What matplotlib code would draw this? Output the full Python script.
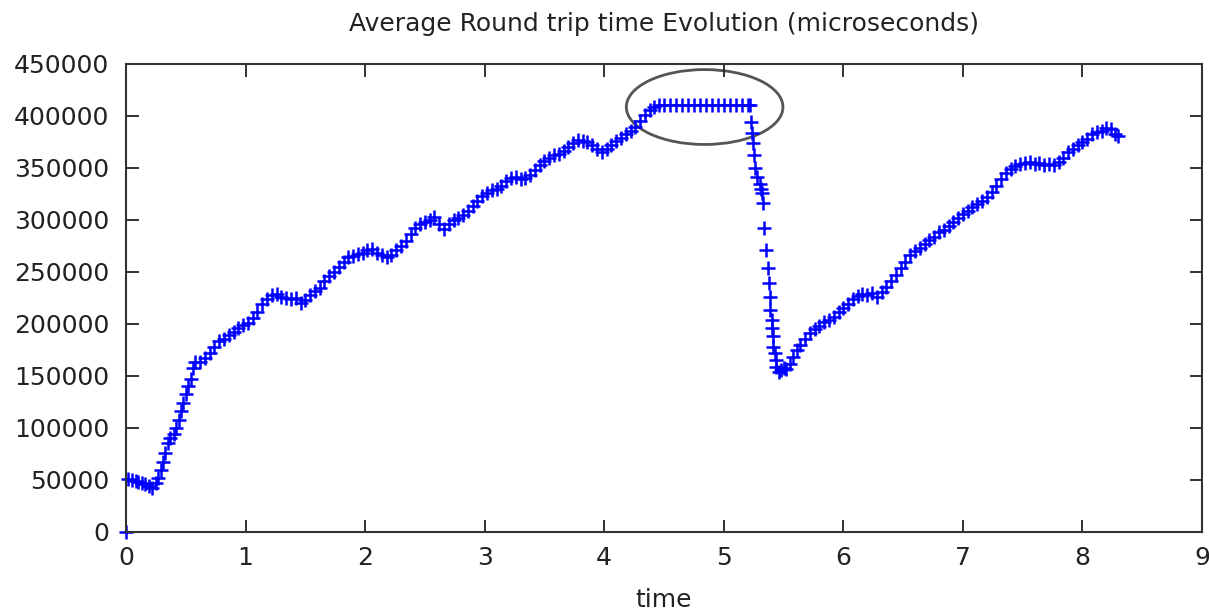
import matplotlib
matplotlib.use("Agg")
import matplotlib.pyplot as plt
from matplotlib.patches import Ellipse

# readings of the plotted series (time, average round trip time in microseconds)
times = [
    0.00, 0.02, 0.05, 0.08, 0.10, 0.13, 0.16, 0.19, 0.22, 0.25, 0.27, 0.29, 0.31, 0.33, 0.35, 0.37,
    0.40, 0.42, 0.44, 0.46, 0.48, 0.50, 0.52, 0.54, 0.56, 0.58, 0.62, 0.66, 0.70, 0.74, 0.78, 0.82,
    0.86, 0.90, 0.94, 0.98, 1.02, 1.06, 1.10, 1.14, 1.18, 1.22, 1.26, 1.30, 1.34, 1.38, 1.42, 1.46,
    1.50, 1.54, 1.58, 1.62, 1.66, 1.70, 1.74, 1.78, 1.82, 1.86, 1.90, 1.94, 1.98, 2.02, 2.06, 2.10,
    2.14, 2.18, 2.22, 2.26, 2.30, 2.34, 2.38, 2.42, 2.46, 2.50, 2.54, 2.58, 2.62, 2.66, 2.70, 2.74,
    2.78, 2.82, 2.86, 2.90, 2.94, 2.98, 3.02, 3.06, 3.10, 3.14, 3.18, 3.22, 3.26, 3.30, 3.34, 3.38,
    3.42, 3.46, 3.50, 3.54, 3.58, 3.62, 3.66, 3.70, 3.74, 3.78, 3.82, 3.86, 3.90, 3.94, 3.98, 4.02,
    4.06, 4.10, 4.14, 4.18, 4.22, 4.26, 4.30, 4.34, 4.38, 4.42, 4.46, 4.50, 4.55, 4.60, 4.65, 4.70,
    4.75, 4.80, 4.85, 4.90, 4.95, 5.00, 5.05, 5.10, 5.15, 5.20, 5.22,
    5.23, 5.24, 5.245, 5.25, 5.26, 5.28, 5.30, 5.31, 5.32, 5.33, 5.34, 5.35, 5.37, 5.38, 5.385,
    5.39, 5.40, 5.405, 5.41, 5.415, 5.43, 5.435, 5.44, 5.46, 5.48, 5.50, 5.52, 5.55, 5.58, 5.61,
    5.64, 5.68, 5.72, 5.76, 5.80, 5.84, 5.88, 5.92, 5.96, 6.00, 6.04, 6.08, 6.12, 6.16, 6.20, 6.24,
    6.28, 6.32, 6.36, 6.40, 6.44, 6.48, 6.52, 6.56, 6.60, 6.64, 6.68, 6.72, 6.76, 6.80, 6.84, 6.88,
    6.92, 6.96, 7.00, 7.04, 7.08, 7.12, 7.16, 7.20, 7.24, 7.28, 7.32, 7.36, 7.40, 7.44, 7.48, 7.52,
    7.56, 7.60, 7.64, 7.68, 7.72, 7.76, 7.80, 7.84, 7.88, 7.92, 7.96, 8.00, 8.04, 8.08, 8.12, 8.16,
    8.20, 8.24, 8.27, 8.30,
]
rtt = [
    0, 51000, 50000, 49000, 48000, 47000, 46000, 44000, 42000, 47000, 52000, 60000, 67000, 76000, 86000, 90000,
    94000, 100000, 108000, 116000, 124000, 133000, 140000, 147000, 158000, 163000, 163000, 167000, 172000, 178000, 184000, 186000,
    189000, 192000, 196000, 199000, 201000, 206000, 212000, 219000, 224000, 228000, 229000, 226000, 225000, 224000, 225000, 220000,
    223000, 228000, 232000, 235000, 241000, 246000, 250000, 255000, 260000, 264000, 265000, 267000, 268000, 271000, 272000, 268000,
    266000, 264000, 266000, 271000, 275000, 280000, 287000, 292000, 296000, 298000, 300000, 303000, 296000, 291000, 296000, 300000,
    302000, 305000, 309000, 313000, 318000, 323000, 326000, 329000, 330000, 333000, 337000, 340000, 341000, 339000, 340000, 343000,
    348000, 353000, 357000, 360000, 362000, 363000, 366000, 370000, 374000, 377000, 376000, 375000, 372000, 368000, 365000, 368000,
    372000, 376000, 379000, 383000, 386000, 389000, 395000, 401000, 406000, 409000, 411000, 411000, 411000, 411000, 411000, 411000,
    411000, 411000, 411000, 411000, 411000, 411000, 411000, 411000, 411000, 411000, 411000,
    394000, 384000, 374000, 362000, 350000, 341000, 335000, 330000, 326000, 316000, 292000, 271000, 254000, 239000, 226000,
    213000, 204000, 196000, 188000, 178000, 172000, 165000, 159000, 154000, 156000, 158000, 157000, 162000, 168000, 175000,
    180000, 186000, 191000, 195000, 198000, 202000, 204000, 207000, 212000, 215000, 219000, 224000, 227000, 229000, 228000, 230000,
    226000, 231000, 236000, 241000, 247000, 254000, 260000, 266000, 270000, 273000, 277000, 281000, 284000, 288000, 290000, 294000,
    298000, 302000, 306000, 309000, 312000, 315000, 318000, 322000, 327000, 333000, 339000, 345000, 349000, 352000, 354000, 355000,
    356000, 354000, 355000, 353000, 354000, 353000, 356000, 360000, 365000, 368000, 372000, 375000, 378000, 383000, 385000, 386000,
    388000, 387000, 383000, 381000,
]

x_ticks = [0, 1, 2, 3, 4, 5, 6, 7, 8, 9]
y_ticks = [0, 50000, 100000, 150000, 200000, 250000, 300000, 350000, 400000, 450000]

fig = plt.figure(figsize=(12.09, 6.11), dpi=100)
ax = fig.add_axes([0.1042, 0.1293, 0.8900, 0.7660])

ax.plot(times, rtt, linestyle="none", marker="+", markersize=10, markeredgewidth=1.8,
        color="#0000ff", clip_on=False)

# highlight of the saturated plateau
ax.add_patch(Ellipse((4.84, 408600), width=1.31, height=72000, fill=False,
                     edgecolor="#555555", linewidth=2))

ax.set_xlim(0, 9)
ax.set_ylim(0, 450000)
ax.set_xticks(x_ticks)
ax.set_yticks(y_ticks)
ax.set_xticklabels([str(v) for v in x_ticks])
ax.set_yticklabels([str(v) for v in y_ticks])

ax.tick_params(direction="in", length=9, width=1.3, top=True, right=True,
               labelsize=18, colors="#222222", labelcolor="#222222")
ax.tick_params(axis="x", pad=10)
ax.tick_params(axis="y", pad=12)
for spine in ax.spines.values():
    spine.set_linewidth(1.5)
    spine.set_color("#333333")

ax.set_title("Average Round trip time Evolution (microseconds)", fontsize=18,
             color="#222222", pad=24)
ax.set_xlabel("time", fontsize=18, color="#222222", labelpad=13)

fig.savefig("out.png", dpi=100)
